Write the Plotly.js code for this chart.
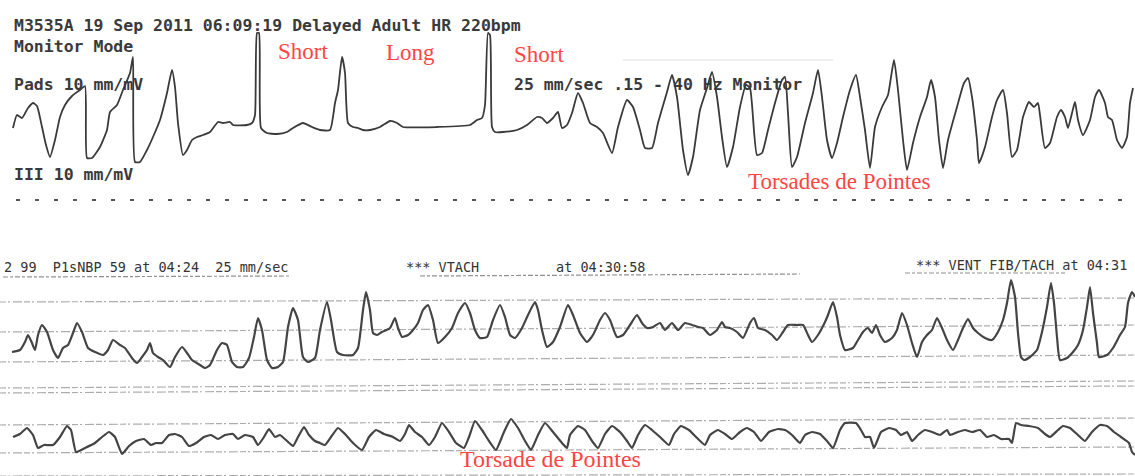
<!DOCTYPE html>
<html><head><meta charset="utf-8">
<script src="https://cdn.plot.ly/plotly-3.0.1.min.js"></script>
<style>html,body{margin:0;padding:0;background:#fff}#chart{width:1135px;height:476px}</style>
</head><body><div id="chart"></div>
<script>
// ---- Pads lead (top strip) : time index / amplitude as read from the strip ----
const padsT = [13,17,22,28,33,37,42,46,50,55,60,65,72,80,85,87,92,100,107,110,117,123,130,133,135,140,147,153,160,167,172,175,178,183,187,192,197,203,210,218,223,230,233,247,252,255,257,259,261,267,277,287,293,303,312,320,330,335,338,342,345,348,353,358,363,370,380,390,397,403,437,470,477,482,485,488,490,492,495,503,517,527,537,542,547,553,558,562,567,572,578,583,590,597,603,612,618,627,633,640,645,652,658,667,672,677,683,688,693,700,707,712,717,722,727,733,740,746,750,757,762,768,775,782,785,788,792,797,805,813,818,822,827,832,837,843,850,856,860,865,870,875,882,888,894,898,903,907,913,920,927,931,935,939,943,948,957,964,968,972,977,979,985,992,997,1003,1007,1012,1017,1023,1029,1034,1038,1040,1045,1050,1057,1061,1065,1068,1072,1075,1078,1083,1090,1095,1099,1105,1108,1112,1117,1122,1127,1130,1133];
const padsV = [128,115,118,108,103,106,127,145,157,140,117,105,96,90,86,158,158,147,130,112,105,90,73,57,162,162,150,137,120,93,70,87,123,155,150,140,137,135,132,122,123,122,125,125,123,115,33,33,128,133,134,132,128,123,127,130,130,103,90,57,73,123,127,128,130,130,127,121,123,127,127,125,120,118,105,33,35,127,132,132,130,125,117,118,123,118,112,128,125,113,93,103,123,127,133,153,127,100,107,130,148,148,123,92,75,97,150,175,157,110,88,72,97,137,167,147,107,85,88,155,153,130,103,80,77,113,167,157,123,93,70,97,140,158,143,117,90,75,97,130,168,127,107,95,60,90,140,170,143,117,97,80,97,140,168,140,107,83,78,97,140,163,147,117,100,90,113,157,150,117,102,107,103,115,148,143,117,110,117,128,113,102,120,135,120,97,90,103,117,120,140,148,137,103,88];

// ---- Monitor strip, upper channel (bottom section) ----
const ch1T = [12,20,25,28,32,35,38,42,47,53,58,63,68,73,77,82,88,95,103,108,113,120,125,132,137,142,147,150,153,158,163,170,175,182,187,192,200,205,210,217,222,227,232,237,243,249,254,258,262,267,272,278,283,288,293,298,303,308,315,320,327,331,337,343,353,358,363,366,370,373,377,382,390,395,398,402,408,413,418,423,428,433,438,445,452,458,465,470,475,480,487,493,500,505,510,515,522,528,535,538,542,547,553,560,568,573,580,587,593,600,605,610,617,623,630,637,642,647,653,660,665,672,678,685,692,698,703,710,717,722,725,730,737,743,750,754,758,765,772,777,783,788,797,803,808,812,818,825,828,833,837,840,845,853,858,863,868,872,876,880,885,892,897,902,907,912,917,922,927,932,937,942,947,953,958,963,968,973,978,985,992,998,1003,1007,1011,1015,1018,1021,1024,1030,1037,1042,1047,1051,1054,1057,1060,1067,1073,1078,1083,1087,1090,1093,1097,1099,1107,1113,1120,1125,1128,1132,1135];
const ch1V = [352,350,342,335,343,350,335,325,332,350,358,348,345,333,323,332,348,352,355,350,340,345,348,358,363,357,350,343,353,357,360,367,357,347,353,360,365,368,365,350,343,345,362,367,367,358,337,318,330,360,368,367,362,327,308,320,357,362,358,330,302,320,352,355,355,348,310,292,310,333,335,332,328,318,328,337,335,330,323,310,305,320,343,337,328,313,303,313,330,338,337,320,305,317,335,338,328,315,302,310,330,347,342,327,305,315,333,342,335,320,313,320,337,335,325,315,323,328,327,323,330,323,330,323,325,327,328,335,330,322,327,328,332,338,323,318,328,330,335,340,332,325,325,325,335,342,335,322,315,302,317,335,350,348,340,332,328,333,325,335,342,338,330,313,325,343,357,342,335,330,318,328,340,350,340,328,319,328,333,338,340,332,320,303,280,297,333,357,360,357,350,332,307,283,303,337,360,358,352,345,330,307,287,313,343,357,355,348,335,327,303,292,297];

// ---- Monitor strip, lower channel (bottom section) ----
const ch2T = [13,20,27,33,38,44,53,60,67,71,76,85,95,102,109,115,122,129,136,144,151,156,162,169,175,182,189,196,204,211,218,225,233,238,245,253,258,264,269,275,280,287,293,298,304,309,315,320,325,331,338,345,353,362,369,376,384,393,400,405,409,415,422,429,435,442,449,456,464,469,475,482,489,496,504,511,518,525,531,538,545,553,562,567,570,578,585,592,598,605,612,620,627,632,638,645,652,660,669,674,681,689,696,705,710,718,725,732,740,747,754,761,769,778,785,792,800,805,812,820,827,833,840,845,856,861,865,870,874,881,889,896,901,907,912,918,925,932,940,947,950,958,965,972,980,987,994,1001,1009,1012,1016,1021,1029,1038,1045,1050,1058,1063,1070,1078,1085,1092,1100,1107,1114,1121,1129,1132,1135];
const ch2V = [437,434,428,435,448,445,445,437,426,430,452,448,443,437,432,437,454,446,441,439,445,443,443,435,434,437,446,443,437,435,439,435,434,439,435,437,445,437,429,437,435,441,446,437,427,435,441,443,445,437,428,434,443,450,437,430,434,437,441,434,425,432,437,445,437,423,432,443,448,437,421,430,441,450,432,419,428,441,450,435,423,432,443,448,435,426,430,441,448,434,426,432,441,448,435,425,430,437,445,434,426,430,437,445,435,430,434,439,432,428,432,441,432,429,430,435,443,435,432,434,441,448,430,423,423,430,437,437,448,432,428,430,435,432,441,435,430,432,435,430,435,432,430,432,430,437,435,439,439,443,423,425,426,428,434,437,430,426,428,435,441,432,425,426,432,437,443,452,455];

// ---- printed strip rulings (left level, right level) ----
const rulingLeft  = [302,332,362,388,393,425,453,476];
const rulingRight = [298,325,355,381,386,418,447,474];
const rulingSpan  = [0,1135];
const underlineX  = [[3,290],[420,800],[905,1065]];
const underlineY  = [[277,276],[276,274],[273,273]];

// ---- separator (top strip) ----
const sepX = [16,1135];
const sepY = [200,200];
const hairX = [623,833];
const hairY = [60,60];

// ---- texts ----
const headerLabels = ["M3535A 19 Sep 2011 06:09:19 Delayed Adult HR 220bpm","Monitor Mode","Pads 10 mm/mV","III 10 mm/mV","25 mm/sec .15 - 40 Hz Monitor"];
const headerX = [12,12,12,12,512];
const headerY = [25,46,84,174,84];
const noteLabels = ["Short","Long","Short","Torsades de Pointes","Torsade de Pointes"];
const noteX = [276,384,512,746,458];
const noteY = [51,52,54,181,459];
const alarmLabels = ["2 99  P1sNBP 59 at 04:24  25 mm/sec","*** VTACH","at 04:30:58","*** VENT FIB/TACH at 04:31"];
const alarmX = [2,404,554,914];
const alarmY = [267,267,267,265];

const ink = '#3a3a3a';
const traces = [];
traces.push({x:sepX,y:sepY,mode:'lines',line:{color:'#555',width:2,dash:'4px,15px'},hoverinfo:'skip'});
traces.push({x:hairX,y:hairY,mode:'lines',line:{color:'#ddd',width:1},hoverinfo:'skip'});
for(let i=0;i<rulingLeft.length;i++){
  traces.push({x:rulingSpan,y:[rulingLeft[i],rulingRight[i]],mode:'lines',
    line:{color:'rgba(70,70,70,0.45)',width:1.2,dash:'6px,2px,2px,3px,9px,2px'},hoverinfo:'skip'});
}
for(let i=0;i<underlineX.length;i++){
  traces.push({x:underlineX[i],y:underlineY[i],mode:'lines',
    line:{color:'rgba(70,70,70,0.6)',width:1.2,dash:'5px,2px,3px,2px'},hoverinfo:'skip'});
}
traces.push({x:padsT,y:padsV,mode:'lines',line:{color:ink,width:1.8,shape:'spline',smoothing:0.5},hoverinfo:'skip'});
traces.push({x:ch1T,y:ch1V,mode:'lines',line:{color:'#444',width:2.2,shape:'spline',smoothing:0.5},hoverinfo:'skip'});
traces.push({x:ch2T,y:ch2V,mode:'lines',line:{color:'#444',width:2.2,shape:'spline',smoothing:0.4},hoverinfo:'skip'});

const ann = [];
headerLabels.forEach((t,i)=>ann.push({text:'<b>'+t+'</b>',x:headerX[i],y:headerY[i],xref:'x',yref:'y',xanchor:'left',yanchor:'middle',showarrow:false,
  font:{family:'DejaVu Sans Mono',size:16.5,color:'#3a3a3a'}}));
noteLabels.forEach((t,i)=>ann.push({text:t,x:noteX[i],y:noteY[i],xref:'x',yref:'y',xanchor:'left',yanchor:'middle',showarrow:false,
  font:{family:'Liberation Serif',size:i===4?24:23,color:'#ff4545'}}));
alarmLabels.forEach((t,i)=>ann.push({text:t,x:alarmX[i],y:alarmY[i],xref:'x',yref:'y',xanchor:'left',yanchor:'middle',showarrow:false,
  font:{family:'DejaVu Sans Mono',size:13.5,color:'#333'}}));

const layout = {
  width:1135,height:476,margin:{l:0,r:0,t:0,b:0},
  paper_bgcolor:'#fff',plot_bgcolor:'#fff',showlegend:false,
  xaxis:{range:[0,1135],visible:false,fixedrange:true},
  yaxis:{range:[476,0],visible:false,fixedrange:true},
  annotations:ann
};
Plotly.newPlot('chart',traces,layout,{staticPlot:true,displayModeBar:false});
</script></body></html>
